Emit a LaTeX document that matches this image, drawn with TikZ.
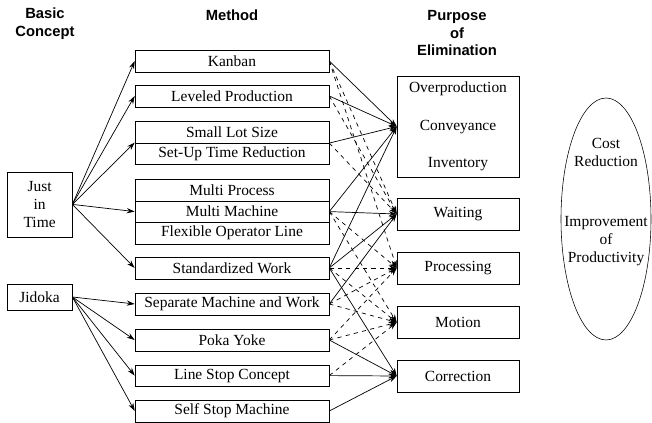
\documentclass[tikz,border=0pt]{standalone}
\usepackage{fontspec}
\setmainfont{Liberation Serif}
\setsansfont{Liberation Sans}
\usetikzlibrary{arrows.meta,shapes.geometric}

\begin{document}
\begin{tikzpicture}[>={Stealth[length=2mm,width=1.3mm]},
	every node/.style={font=\fontsize{11}{12.8}\selectfont},
	head/.style={font=\sffamily\bfseries\fontsize{10.5}{12.8}\selectfont,align=center},
	concept/.style={draw,minimum width=1.625cm,align=center},
	method/.style={draw,minimum width=4.85cm,minimum height=0.54cm,inner sep=0pt},
	purpose/.style={draw,minimum width=3.05cm,minimum height=0.8cm,align=center},
	link/.style={->,line width=0.5pt},
	weak/.style={->,line width=0.5pt,dashed}]
			\useasboundingbox (0,0) rectangle (16.3,-10.575);
			% column heads
			\node[head] (basic) at (1.125,-0.6) {Basic\\Concept};
			\node[head] (methodhead) at (5.8,-0.375) {Method};
			\node[head] (purposehead) at (11.425,-0.825) {Purpose\\of\\Elimination};
			% basic concept
			\node[concept,minimum height=1.625cm] (jit) at (0.99,-5.11) {Just\\in\\Time};
			\node[concept,minimum height=0.65cm] (jidoka) at (0.99,-7.425) {Jidoka};
			% method
			\node[method] (kanban) at (5.8,-1.525) {Kanban};
			\node[method] (level) at (5.8,-2.4) {Leveled Production};
			\node[method] (smalllot) at (5.8,-3.3) {Small Lot Size};
			\node[method] (setup) at (5.8,-3.84) {Set-Up Time Reduction};
			\node[method] (multiproc) at (5.8,-4.75) {Multi Process};
			\node[method] (multimach) at (5.8,-5.29) {Multi Machine};
			\node[method] (flexline) at (5.8,-5.83) {Flexible Operator Line};
			\node[method] (stdwork) at (5.8,-6.7) {Standardized Work};
			\node[method] (sepwork) at (5.8,-7.6) {Separate Machine and Work};
			\node[method] (pokayoke) at (5.8,-8.5) {Poka Yoke};
			\node[method] (linestop) at (5.8,-9.39) {Line Stop Concept};
			\node[method] (selfstop) at (5.8,-10.275) {Self Stop Machine};
			% purpose of elimination
			\node[purpose,minimum height=2.525cm] (over) at (11.45,-3.1625) {Overproduction\\[4.9mm]Conveyance\\[4.9mm]Inventory};
			\node[purpose] (waiting) at (11.45,-5.35) {Waiting};
			\node[purpose] (processing) at (11.45,-6.7) {Processing};
			\node[purpose] (motion) at (11.45,-8.06) {Motion};
			\node[purpose] (correction) at (11.45,-9.4) {Correction};
			% goal
			\node[draw,ellipse,minimum width=2.25cm,minimum height=6.05cm,
				label={[align=center,yshift=4.3mm]center:{Cost\\Reduction\\[10.5mm]Improvement\\of\\Productivity}}] (goal) at (15.15,-5.475) {};
			% basic concept to method
			\draw[link] (jit.east) -- (kanban.west);
			\draw[link] (jit.east) -- (level.west);
			\draw[link] (jit.east) -- (setup.north west);
			\draw[link] (jit.east) -- (multimach.west);
			\draw[link] (jit.east) -- (stdwork.west);
			\draw[link] (jidoka.east) -- (sepwork.west);
			\draw[link] (jidoka.east) -- (pokayoke.west);
			\draw[link] (jidoka.east) -- (linestop.west);
			\draw[link] (jidoka.east) -- (selfstop.west);
			% method to purpose
			\draw[link] (kanban.east) -- (over.west);
			\draw[weak] (kanban.east) -- (waiting.west);
			\draw[weak] (kanban.east) -- (processing.west);
			\draw[link] (level.east) -- (over.west);
			\draw[weak] (level.east) -- (waiting.west);
			\draw[link] (smalllot.south east) -- (over.west);
			\draw[weak] (smalllot.south east) -- (waiting.west);
			\draw[link] (multimach.east) -- (over.west);
			\draw[link] (multimach.east) -- (waiting.west);
			\draw[weak] (multimach.east) -- (processing.west);
			\draw[weak] (multimach.east) -- (motion.west);
			\draw[link] (stdwork.east) -- (over.west);
			\draw[link] (stdwork.east) -- (waiting.west);
			\draw[weak] (stdwork.east) -- (processing.west);
			\draw[weak] (stdwork.east) -- (motion.west);
			\draw[link] (stdwork.east) -- (correction.west);
			\draw[link] (sepwork.east) -- (waiting.west);
			\draw[weak] (sepwork.east) -- (processing.west);
			\draw[weak] (sepwork.east) -- (motion.west);
			\draw[weak] (pokayoke.east) -- (processing.west);
			\draw[weak] (pokayoke.east) -- (motion.west);
			\draw[link] (pokayoke.east) -- (correction.west);
			\draw[weak] (linestop.east) -- (motion.west);
			\draw[link] (linestop.east) -- (correction.west);
			\draw[link] (selfstop.east) -- (correction.west);
		\end{tikzpicture}
\end{document}
